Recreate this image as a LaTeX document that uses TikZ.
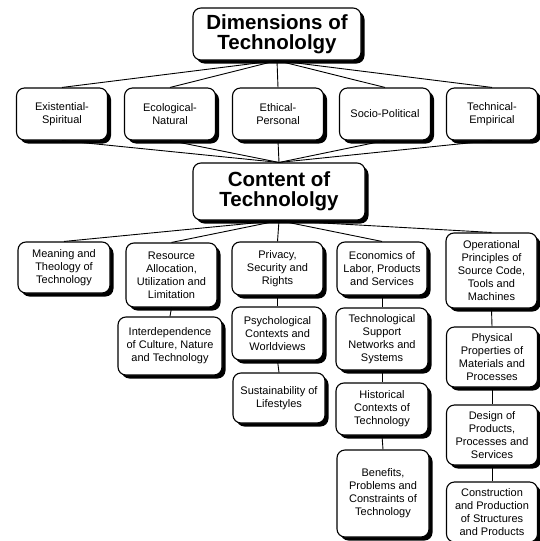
\documentclass[tikz,border=0pt]{standalone}
\usepackage{fontspec}
\setmainfont{Liberation Sans}
\usetikzlibrary{shadows}
\begin{document}
\begin{tikzpicture}[x=1pt,y=-1pt,
  box/.style={draw=black,line width=1.1pt,fill=white,rounded corners=8pt,
    align=center,inner sep=1pt,
    general shadow={fill=black,shadow xshift=3.5pt,shadow yshift=-3.5pt},
    font=\fontsize{11}{13}\selectfont},
  title/.style={box,font=\fontsize{20.5}{20}\selectfont\bfseries},
  link/.style={draw=black,line width=0.9pt}]
\useasboundingbox (0,0) rectangle (540,541);
\clip (0,0) rectangle (540,541);
% top
\node[title,minimum width=168pt,minimum height=52pt] (dim) at (277,34) {Dimensions of\\Technololgy};
% level 2
\foreach \n/\x/\t in {ex/62/{Existential-\\Spiritual},eco/170/{Ecological-\\Natural},eth/278/{Ethical-\\Personal},soc/385/{Socio-Political},tec/492/{Technical-\\Empirical}}{
  \node[box,minimum width=91pt,minimum height=52pt] (\n) at (\x,114) {\t};
}
% content
\node[title,minimum width=172pt,minimum height=57pt] (con) at (279,191.5) {Content of\\Technololgy};
% level 3
\node[box,minimum width=92pt,minimum height=51pt] (mea) at (64,267.5) {Meaning and\\Theology of\\Technology};
\node[box,minimum width=91pt,minimum height=64pt] (res) at (171.5,275) {Resource\\Allocation,\\Utilization and\\Limitation};
\node[box,minimum width=91pt,minimum height=53pt] (pri) at (277.5,268.5) {Privacy,\\Security and\\Rights};
\node[box,minimum width=90pt,minimum height=53pt] (eco3) at (382,268.5) {Economics of\\Labor, Products\\and Services};
\node[box,minimum width=91pt,minimum height=75pt] (ope) at (491.5,270.5) {Operational\\Principles of\\Source Code,\\Tools and\\Machines};
% level 4+
\node[box,minimum width=104pt,minimum height=58pt] (int) at (170,346) {Interdependence\\of Culture, Nature\\and Technology};
\node[box,minimum width=91pt,minimum height=53pt] (psy) at (277.5,333.5) {Psychological\\Contexts and\\Worldviews};
\node[box,minimum width=92pt,minimum height=50pt] (sus) at (279,398) {Sustainability of\\Lifestyles};
\node[box,minimum width=92pt,minimum height=62pt] (tsn) at (382,339) {Technological\\Support\\Networks and\\Systems};
\node[box,minimum width=92pt,minimum height=52pt] (his) at (382,409) {Historical\\Contexts of\\Technology};
\node[box,minimum width=92pt,minimum height=87pt] (ben) at (383,493.5) {Benefits,\\Problems and\\Constraints of\\Technology};
\node[box,minimum width=91pt,minimum height=60pt] (phy) at (492,357) {Physical\\Properties of\\Materials and\\Processes};
\node[box,minimum width=91pt,minimum height=60pt] (des) at (492,435) {Design of\\Products,\\Processes and\\Services};
\node[box,minimum width=91pt,minimum height=60pt] (cst) at (492,512) {Construction\\and Production\\of Structures\\and Products};
% connectors
\foreach \n in {ex,eco,eth,soc,tec}{
  \draw[link] (dim.south) -- (\n.north);
  \draw[link] (\n.south) -- (con.north);
}
\foreach \n in {mea,res,pri,eco3,ope}{
  \draw[link] (con.south) -- (\n.north);
}
\draw[link] (res.south) -- (int.north);
\draw[link] (pri.south) -- (psy.north);
\draw[link] (psy.south) -- (sus.north);
\draw[link] (eco3.south) -- (tsn.north);
\draw[link] (tsn.south) -- (his.north);
\draw[link] (his.south) -- (ben.north);
\draw[link] (ope.south) -- (phy.north);
\draw[link] (phy.south) -- (des.north);
\draw[link] (des.south) -- (cst.north);
\end{tikzpicture}
\end{document}
